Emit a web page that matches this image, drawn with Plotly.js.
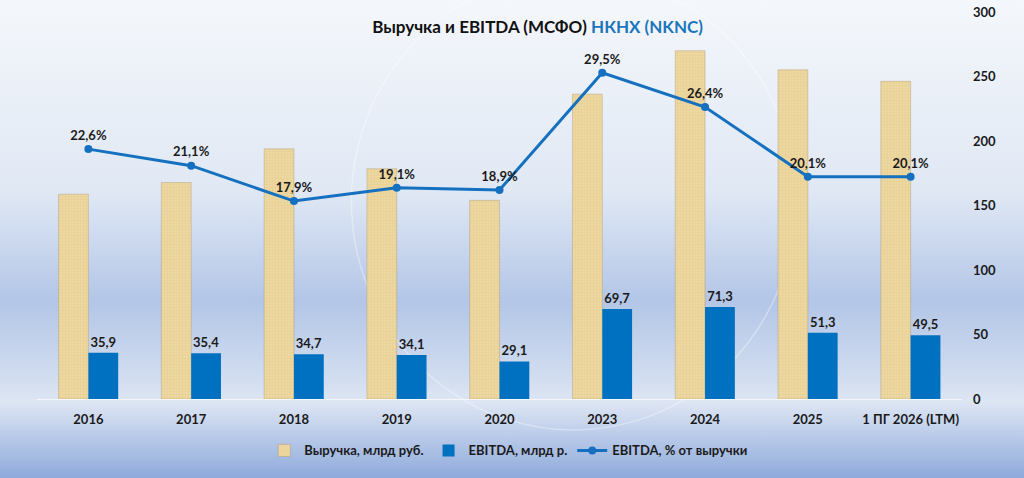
<!DOCTYPE html>
<html>
<head>
<meta charset="utf-8">
<script src="https://cdn.plot.ly/plotly-3.0.1.min.js"></script>
<style>
  html, body { margin: 0; padding: 0; }
  #plotDiv {
    width: 1024px; height: 478px;
    background: linear-gradient(to bottom, #f4f7fb 0%, #e0e8f4 40%, #b3c6e7 63%, #d3def0 80%, #dee6f4 84%, #8eaadb 100%);
  }
</style>
</head>
<body>
<div id="plotDiv"></div>
<script>
var years = ["2016", "2017", "2018", "2019", "2020", "2023", "2024", "2025", "1 ПГ 2026 (LTM)"];
var revenue = [158.8, 167.8, 193.9, 178.5, 154.0, 236.3, 270.0, 255.2, 246.3];
var ebitda = [35.9, 35.4, 34.7, 34.1, 29.1, 69.7, 71.3, 51.3, 49.5];
var margin = [22.6, 21.1, 17.9, 19.1, 18.9, 29.5, 26.4, 20.1, 20.1];

function comma(v) { return v.toFixed(1).replace('.', ','); }

var labelFont = { family: "Lato, 'Open Sans', sans-serif", size: 13, color: "#1a1a1a", weight: "bold" };

var data = [
  {
    type: "bar",
    name: "Выручка, млрд руб.",
    x: years,
    y: revenue,
    marker: {
      color: "#edd8a0",
      line: { color: "rgba(160,140,100,0.35)", width: 1 },
      pattern: { shape: "+", fillmode: "overlay", fgcolor: "rgba(205,175,115,0.45)", size: 3, solidity: 0.3 }
    },
    hoverinfo: "y"
  },
  {
    type: "bar",
    name: "EBITDA, млрд р.",
    x: years,
    y: ebitda,
    marker: { color: "#0070c0" },
    text: ebitda.map(comma),
    textposition: "outside",
    textfont: labelFont,
    cliponaxis: false
  },
  {
    type: "scatter",
    mode: "lines+markers+text",
    name: "EBITDA, % от выручки",
    x: years,
    y: margin,
    yaxis: "y2",
    line: { color: "#1570bf", width: 3 },
    marker: { color: "#1570bf", size: 8 },
    text: margin.map(function (v) { return comma(v) + "%"; }),
    textposition: "top center",
    textfont: labelFont,
    cliponaxis: false
  }
];

var layout = {
  width: 1024,
  height: 478,
  paper_bgcolor: "rgba(0,0,0,0)",
  plot_bgcolor: "rgba(0,0,0,0)",
  margin: { l: 37, r: 62, t: 12, b: 75 },
  font: { family: "Lato, 'Open Sans', sans-serif", size: 13, color: "#1a1a1a" },
  title: {
    text: "<b>Выручка и EBITDA (МСФО) <span style='color:#1b75bc'>НКНХ (NKNC)</span></b>",
    font: { size: 17, color: "#111" },
    x: 0.525, xanchor: "center",
    y: 0.944, yanchor: "middle"
  },
  barmode: "group",
  bargap: 0.42,
  bargroupgap: 0,
  showlegend: true,
  legend: {
    orientation: "h",
    x: 0.51, xanchor: "center",
    y: -0.133, yanchor: "middle",
    font: { size: 13, weight: "bold" },
    bgcolor: "rgba(0,0,0,0)"
  },
  xaxis: {
    type: "category",
    showgrid: false,
    zeroline: false,
    showline: true,
    linecolor: "rgba(255,255,255,0.7)",
    linewidth: 1,
    ticks: "",
    ticklabelstandoff: 8,
    tickfont: { size: 13, weight: "bold" }
  },
  yaxis: {
    side: "right",
    range: [0, 300],
    dtick: 50,
    showgrid: false,
    zeroline: false,
    ticks: "",
    ticklabelstandoff: 10,
    tickfont: { size: 13, weight: "bold" }
  },
  yaxis2: {
    overlaying: "y",
    range: [0, 35],
    visible: false
  },
  shapes: [
    {
      type: "circle", xref: "paper", yref: "paper", layer: "below",
      x0: 0.34, x1: 0.82, y0: -0.08, y1: 1.1,
      line: { color: "rgba(255,255,255,0.35)", width: 1.5 }
    }
  ]
};

Plotly.newPlot("plotDiv", data, layout, { displayModeBar: false });
</script>
</body>
</html>
